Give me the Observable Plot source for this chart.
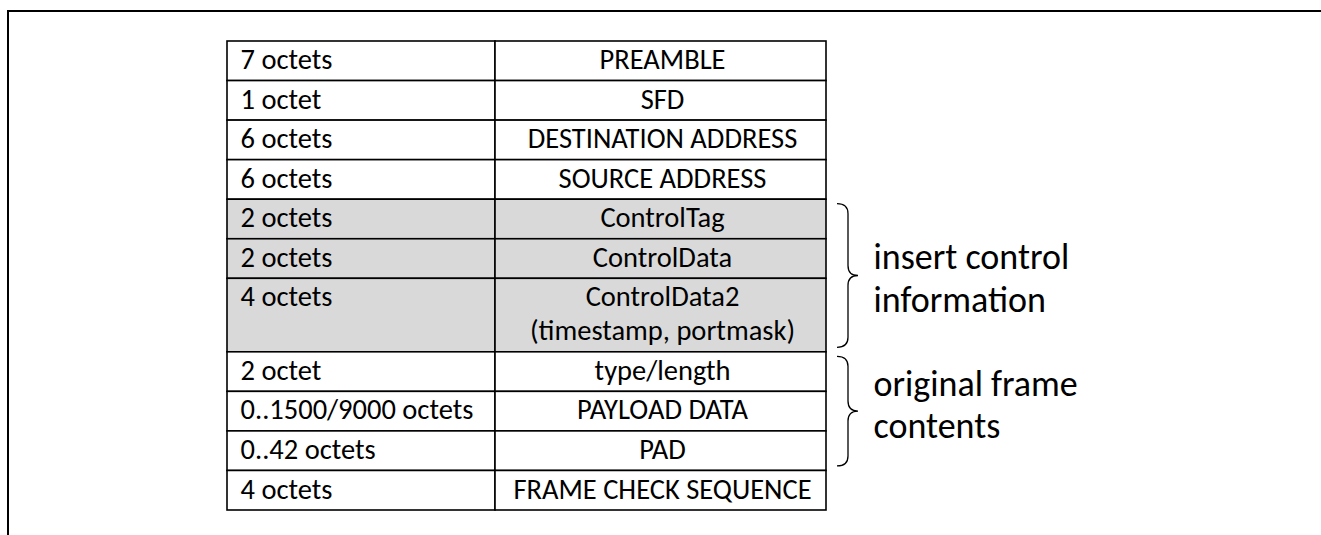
<!DOCTYPE html>
<html>
<head>
<meta charset="utf-8">
<script src="https://cdn.jsdelivr.net/npm/d3@7"></script>
<script src="https://cdn.jsdelivr.net/npm/@observablehq/plot@0.6"></script>
<style>
  html, body { margin: 0; padding: 0; background: #fff; overflow: hidden; }
  #chart svg { display: block; }
</style>
</head>
<body>
<div id="chart"></div>
<script>
// ---- data ----
const sizes = ["7 octets", "1 octet", "6 octets", "6 octets", "2 octets", "2 octets", "4 octets",
               "2 octet", "0..1500/9000 octets", "0..42 octets", "4 octets"];
const fields = ["PREAMBLE", "SFD", "DESTINATION ADDRESS", "SOURCE ADDRESS", "ControlTag", "ControlData",
                "ControlData2\n(timestamp, portmask)", "type/length", "PAYLOAD DATA", "PAD", "FRAME CHECK SEQUENCE"];
const rowLines = [1, 1, 1, 1, 1, 1, 2, 1, 1, 1, 1];
const inserted = [false, false, false, false, true, true, true, false, false, false, false];
const groupLabels = ["insert control\ninformation", "original frame\ncontents"];
const groupFirstRow = [4, 7];
const groupLastRow = [6, 9];

// ---- layout constants ----
const W = 1321, H = 535;
const tableLeft = 227, colDivider = 495, tableRight = 826;
const tableTop = 41, tableBottom = 510;
const cellPad = 0.165;               // cell padding, in text-line units
const braceX0 = 837, braceXm = 848, braceX1 = 858, braceR = 10, braceInset = 4.5;
const labelX = 873;
const labelDy = [1, -8];             // vertical nudge of each brace label, px
const FONT = "Carlito, Calibri, Lato, sans-serif";
const cellFont = 28.5, cellLine = 1.19, cellDy = 3.5;
const labelFont = 36, labelLine = 1.18;

// ---- derived table ----
let acc = 0;
const rows = sizes.map((s, i) => {
  const start = acc;
  acc += rowLines[i] + cellPad;
  return {size: s, field: fields[i], start, end: acc, inserted: inserted[i]};
});
const totalUnits = acc;
const groups = groupLabels.map((label, i) => ({
  label,
  start: rows[groupFirstRow[i]].start,
  end: rows[groupLastRow[i]].end,
  mid: (rows[groupFirstRow[i]].start + rows[groupLastRow[i]].end) / 2
}));

// brace render mark using the plot's y scale
function braces(index, scales) {
  const g = d3.create("svg:g").attr("fill", "none").attr("stroke", "#000").attr("stroke-width", 1.3);
  for (const gr of groups) {
    const yTop = scales.y(gr.start) + braceInset;
    const yBot = scales.y(gr.end) - braceInset;
    const yMid = scales.y(gr.mid);
    const p = d3.path();
    p.moveTo(braceX0, yTop);
    p.quadraticCurveTo(braceXm, yTop, braceXm, yTop + braceR);
    p.lineTo(braceXm, yMid - braceR);
    p.quadraticCurveTo(braceXm, yMid, braceX1, yMid);
    p.quadraticCurveTo(braceXm, yMid, braceXm, yMid + braceR);
    p.lineTo(braceXm, yBot - braceR);
    p.quadraticCurveTo(braceXm, yBot, braceX0, yBot);
    g.append("path").attr("d", p.toString());
  }
  return g.node();
}

// outer page frame (top and left edges only)
function pageFrame() {
  const g = d3.create("svg:g").attr("stroke", "#000").attr("stroke-width", 2);
  g.append("line").attr("x1", 7).attr("x2", W).attr("y1", 11).attr("y2", 11);
  g.append("line").attr("x1", 8).attr("x2", 8).attr("y1", 10).attr("y2", H);
  return g.node();
}

const chart = Plot.plot({
  width: W,
  height: H,
  margin: 0,
  style: {background: "#fff", fontFamily: FONT, overflow: "hidden"},
  x: {type: "identity"},
  y: {domain: [0, totalUnits], range: [tableTop, tableBottom], axis: null},
  marks: [
    pageFrame,
    Plot.rect(rows, {
      x1: () => tableLeft, x2: () => colDivider, y1: "start", y2: "end",
      fill: d => d.inserted ? "#d9d9d9" : "#ffffff", stroke: "#000", strokeWidth: 1.6
    }),
    Plot.rect(rows, {
      x1: () => colDivider, x2: () => tableRight, y1: "start", y2: "end",
      fill: d => d.inserted ? "#d9d9d9" : "#ffffff", stroke: "#000", strokeWidth: 1.6
    }),
    Plot.text(rows, {
      x: () => tableLeft + 13, y: "start", dy: cellDy, text: "size",
      textAnchor: "start", lineAnchor: "top", lineHeight: cellLine,
      fontSize: cellFont, fill: "#000", fontFamily: FONT
    }),
    Plot.text(rows, {
      x: () => (colDivider + tableRight) / 2 + 1.5, y: "start", dy: cellDy, text: "field",
      textAnchor: "middle", lineAnchor: "top", lineHeight: cellLine,
      fontSize: cellFont, fill: "#000", fontFamily: FONT
    }),
    braces,
    ...groups.map((gr, i) => Plot.text([gr], {
      x: () => labelX, y: "mid", dy: labelDy[i], text: "label", textAnchor: "start",
      lineAnchor: "middle", lineHeight: labelLine,
      fontSize: labelFont, fill: "#000", fontFamily: FONT
    }))
  ]
});
document.getElementById("chart").append(chart);
</script>
</body>
</html>
